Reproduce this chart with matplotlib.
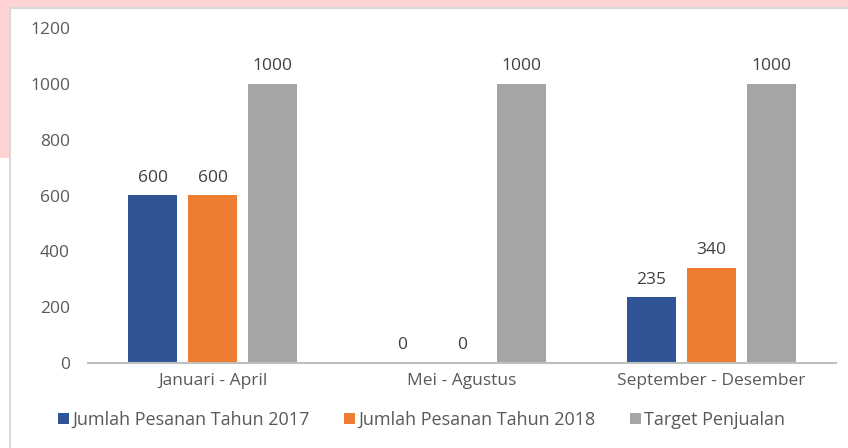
import matplotlib.pyplot as plt
import numpy as np
from matplotlib.patches import Rectangle

categories = ['Januari - April', 'Mei - Agustus', 'September - Desember']
pesanan_2017 = [600, 0, 235]
pesanan_2018 = [600, 0, 340]
target = [1000, 1000, 1000]
series_names = ['Jumlah Pesanan Tahun 2017', 'Jumlah Pesanan Tahun 2018', 'Target Penjualan']
y_ticks = [0, 200, 400, 600, 800, 1000, 1200]

plt.rcParams['font.family'] = ['Open Sans', 'DejaVu Sans']
colors = ['#2F5597', '#ED7D31', '#A5A5A5']
text_col = '#595959'

fig = plt.figure(figsize=(8.48, 4.48), dpi=100)
fig.patch.set_facecolor('white')

# pink screenshot background around the chart box
fig.patches.append(Rectangle((0, 440 / 448), 1, 8 / 448, transform=fig.transFigure,
                             facecolor='#FFD3D3', edgecolor='none', zorder=-2))
fig.patches.append(Rectangle((0, 290 / 448), 10 / 848, 150 / 448, transform=fig.transFigure,
                             facecolor='#FFD3D3', edgecolor='none', zorder=-2))
fig.patches.append(Rectangle((10 / 848, -0.01), 1, 440 / 448 + 0.01, transform=fig.transFigure,
                             facecolor='white', edgecolor='#D9D9D9', linewidth=1.5, zorder=-1))

ax = fig.add_axes([88 / 848, 85 / 448, 748 / 848, 335 / 448])
ax.set_zorder(1)
x = np.arange(len(categories))
width = 0.197
step = 0.24
all_series = [pesanan_2017, pesanan_2018, target]
for i, (vals, name) in enumerate(zip(all_series, series_names)):
    bars = ax.bar(x + (i - 1) * step, vals, width, color=colors[i], label=name, zorder=2)
    for b, v in zip(bars, vals):
        ax.annotate(str(v), (b.get_x() + b.get_width() / 2, v), xytext=(0, 7),
                    textcoords='offset points', ha='center', va='bottom',
                    fontsize=12.5, color='#404040')

ax.set_xlim(-0.5, 2.5)
ax.set_ylim(0, 1200)
ax.set_yticks(y_ticks)
ax.set_xticks(x)
ax.set_xticklabels(categories)
ax.tick_params(axis='both', length=0, labelsize=12.5, labelcolor=text_col)
ax.tick_params(axis='y', pad=13)
ax.tick_params(axis='x', pad=7)
for s in ['top', 'right', 'left']:
    ax.spines[s].set_visible(False)
ax.spines['bottom'].set_color('#BFBFBF')
ax.spines['bottom'].set_linewidth(1.5)
ax.patch.set_alpha(0)

leg = fig.legend(loc='center', bbox_to_anchor=(0.497, 28 / 448), ncol=3, frameon=False,
                 fontsize=13, handlelength=0.6, handleheight=0.6, handletextpad=0.2,
                 columnspacing=1.9)
for t in leg.get_texts():
    t.set_color(text_col)

fig.savefig('out.png', dpi=100, facecolor=fig.get_facecolor())
